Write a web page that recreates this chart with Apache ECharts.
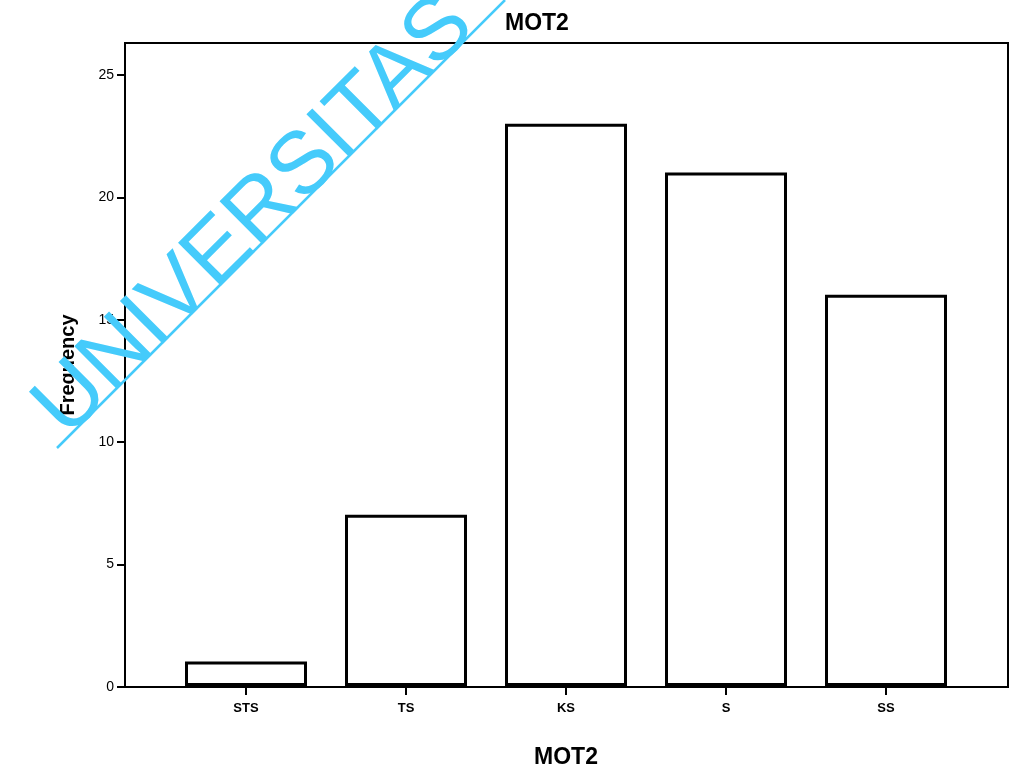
<!DOCTYPE html>
<html>
<head>
<meta charset="utf-8">
<script src="https://cdn.jsdelivr.net/npm/echarts@6/dist/echarts.min.js"></script>
<style>
    html, body { margin: 0; padding: 0; background: #fff; }
    #main { width: 1014px; height: 774px; }
</style>
</head>
<body>
<div id="main"></div>
<script>
// data
var categories = ['STS', 'TS', 'KS', 'S', 'SS'];
var frequency = [1, 7, 23, 21, 16];
var yTicks = [0, 5, 10, 15, 20, 25];
var yMax = 26.3;

var myChart = echarts.init(document.getElementById('main'));

var font = 'Liberation Sans, Arial, sans-serif';

var option = {
    animation: false,
    backgroundColor: '#fff',
    title: {
        text: 'MOT2',
        left: 500,
        top: 7,
        textStyle: { fontFamily: font, fontSize: 23, fontWeight: 'bold', color: '#000' }
    },
    grid: [
        // frame grid, holds the y axis
        { left: 125, right: 6, top: 43, bottom: 87, show: true, borderColor: '#000', borderWidth: 2, backgroundColor: 'transparent' },
        // bars grid
        { left: 166, right: 48, top: 43, bottom: 87 }
    ],
    xAxis: [
        { gridIndex: 0, type: 'value', min: 0, max: 1, show: false },
        {
            gridIndex: 1,
            type: 'category',
            data: categories,
            name: 'MOT2',
            nameLocation: 'middle',
            nameGap: 60,
            nameTextStyle: { fontFamily: font, fontSize: 23, fontWeight: 'bold', color: '#000' },
            axisLine: { show: false },
            axisTick: { show: true, alignWithLabel: true, length: 9, lineStyle: { color: '#000', width: 2 } },
            axisLabel: { margin: 16, fontFamily: font, fontSize: 13, fontWeight: 'bold', color: '#000' }
        }
    ],
    yAxis: [
        {
            gridIndex: 0,
            type: 'value',
            min: 0,
            max: yMax,
            interval: 5,
            name: 'Frequency',
            nameLocation: 'middle',
            nameGap: 47,
            nameTextStyle: { fontFamily: font, fontSize: 20, fontWeight: 'bold', color: '#000' },
            splitLine: { show: false },
            axisLine: { show: true, lineStyle: { color: '#000', width: 2 } },
            axisTick: { show: true, length: 8, customValues: yTicks, lineStyle: { color: '#000', width: 2 } },
            axisLabel: {
                margin: 11,
                fontFamily: font,
                fontSize: 14,
                color: '#000',
                customValues: yTicks
            }
        },
        { gridIndex: 1, type: 'value', min: 0, max: yMax, show: false }
    ],
    series: [
        {
            type: 'bar',
            xAxisIndex: 1,
            yAxisIndex: 1,
            data: frequency,
            barWidth: 122,
            itemStyle: { color: '#fff', borderColor: '#000', borderWidth: 3 },
            silent: true
        }
    ],
    graphic: [
        {
            type: 'text',
            x: 255,
            y: 217,
            rotation: Math.PI / 4,
            z: 100,
            style: {
                text: 'UNIVERSITAS',
                fontFamily: font,
                fontSize: 88,
                fill: '#45cbfb',
                textAlign: 'center',
                textVerticalAlign: 'middle'
            }
        },
        {
            type: 'line',
            z: 100,
            shape: { x1: 57, y1: 448, x2: 505, y2: 0 },
            style: { stroke: '#45cbfb', lineWidth: 2.5 }
        }
    ]
};

option && myChart.setOption(option);
window.onresize = myChart.resize;
</script>
</body>
</html>
